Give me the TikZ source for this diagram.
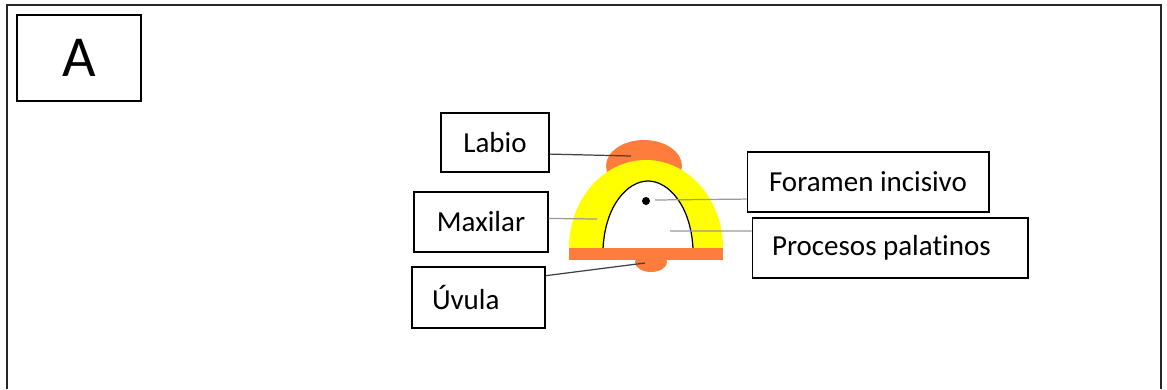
\documentclass[tikz,border=0pt]{standalone}
\usepackage{fontspec}
\setmainfont{Carlito}[Ligatures = NoCommon]

\definecolor{lipcolor}{RGB}{255,125,60}
\definecolor{bonecolor}{RGB}{255,255,0}

\tikzset{
  labelbox/.style = {shape = rectangle, draw = black, line width = 0.6pt,
                     inner sep = 0pt, font = \fontsize{16.5}{19}\selectfont},
  lead/.style     = {line width = 0.7pt, draw = black!75},
  leadlight/.style= {line width = 0.7pt, draw = black!40}
}

\begin{document}
\begin{tikzpicture}[x = 0.02cm, y = -0.02cm]
        \useasboundingbox (0, 0) rectangle (1167, 389);

        % frame, open at the bottom
        \draw[line width = 0.9pt, black!85] (7, 389) -- (7, 5) -- (1161, 5) -- (1161, 389);

        \node[labelbox, minimum width = 2.48cm, minimum height = 1.72cm,
              font = \fontsize{33}{36}\selectfont] at (79, 58) (tag) {A};

        % ------------------------------------------------------------------------
        % Palate
        \fill[lipcolor] (644, 166) ellipse [x radius = 38, y radius = 26];
        \fill[bonecolor] (569, 248) arc [start angle = 180, end angle = 360,
                                         x radius = 77, y radius = 88] -- cycle;
        \filldraw[fill = white, draw = black, line width = 0.7pt]
          (603, 249) .. controls (605, 205) and (628, 181) .. (648, 181)
                     .. controls (668, 181) and (691, 205) .. (693, 249);
        \fill[lipcolor] (651, 262) ellipse [x radius = 16, y radius = 10];
        \fill[lipcolor] (569, 248) rectangle (723, 260);
        \fill[black] (646, 201) circle [radius = 4];

        % ------------------------------------------------------------------------
        % Labels
        \node[labelbox, minimum width = 2.16cm, minimum height = 1.18cm] at (495, 142.5) (labio) {Labio};
        \node[labelbox, minimum width = 2.68cm, minimum height = 1.20cm] at (481, 222) (maxilar) {Maxilar};
        \node[labelbox, minimum width = 2.66cm, minimum height = 1.22cm,
              text width = 1.86cm, inner xsep = 0.4cm, align = flush left] at (478.5, 297.5) (uvula) {Úvula};
        \node[labelbox, minimum width = 4.84cm, minimum height = 1.20cm] at (868, 182) (foramen) {Foramen incisivo};
        \node[labelbox, minimum width = 5.52cm, minimum height = 1.20cm,
              text width = 4.72cm, inner xsep = 0.4cm, align = flush left] at (890, 248) (procesos) {Procesos palatinos};

        \coordinate (labioend)    at (631, 156);
        \coordinate (maxilarend)  at (597, 219);
        \coordinate (uvulaend)    at (645, 263);
        \coordinate (foramenend)  at (655, 200);
        \coordinate (procesosend) at (670, 231);

        \draw[lead]
          (labio.-12) -- (labioend)
          (uvula.18)  -- (uvulaend)
        ;
        \draw[leadlight]
          (maxilar.3)    -- (maxilarend)
          (foramen.188)  -- (foramenend)
          (procesos.173) -- (procesosend)
        ;
\end{tikzpicture}
\end{document}
